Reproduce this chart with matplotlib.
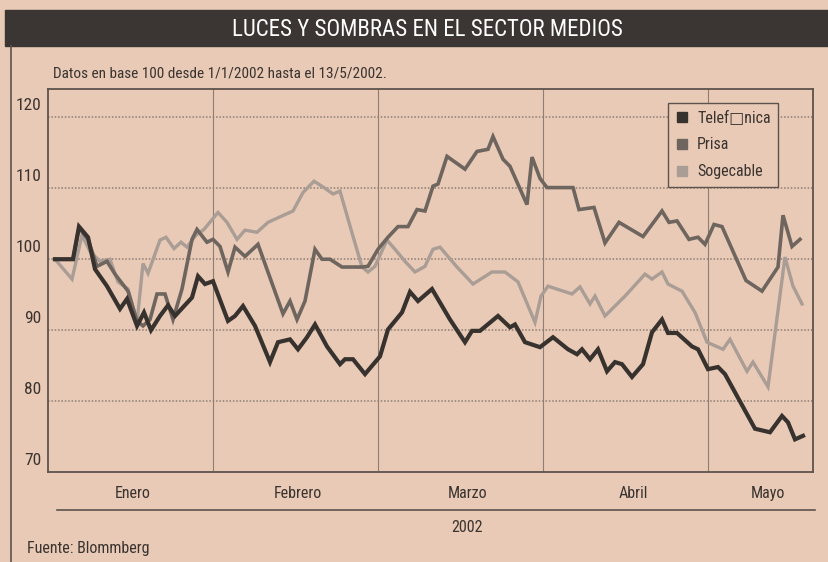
import matplotlib.pyplot as plt
import matplotlib.transforms as mtransforms
from matplotlib.lines import Line2D
from matplotlib.patches import Rectangle

plt.rcParams['font.family'] = ['Roboto Condensed', 'DejaVu Sans']

# posicion en el eje: 33 unidades por mes (ene, feb, mar, abr, may)
limites_mes = [0, 33, 66, 99, 132, 153]
meses = ['Enero', 'Febrero', 'Marzo', 'Abril', 'Mayo']
centros_mes = [17, 50, 84, 117, 144]

t_telefonica = [1.4, 5.0, 6.2, 8.0, 9.4, 11.8, 14.4, 15.8, 17.8, 19.2, 20.6, 22.4, 24.0, 25.4,
                28.8, 30.0, 31.4, 33.0, 36.0, 37.4, 39.0, 41.4, 44.4, 46.0, 48.4, 50.0, 51.8,
                53.4, 55.8, 58.4, 59.4, 61.0, 63.4, 66.4, 68.0, 70.8, 72.4, 74.0, 76.8, 80.4,
                83.4, 84.8, 86.4, 90.0, 92.4, 93.4, 95.4, 98.4, 101.0, 104.0, 105.8, 106.8,
                108.4, 110.0, 111.8, 113.4, 114.8, 116.8, 119.0, 120.8, 122.8, 124.0, 125.8,
                128.8, 130.0, 132.0, 134.0, 135.4, 141.4, 144.4, 146.8, 148.0, 149.4, 151.0]
telefonica = [100, 100, 104.6, 103.1, 98.6, 96.2, 93.0, 94.4, 90.6, 92.5, 90.0, 92.0, 93.5, 92.0,
              94.6, 97.6, 96.5, 96.9, 91.3, 92.0, 93.4, 90.6, 85.5, 88.3, 88.7, 87.3, 89.0,
              90.8, 87.7, 85.2, 85.9, 85.9, 83.8, 86.3, 90.1, 92.5, 95.4, 94.1, 95.8, 91.5,
              88.3, 89.9, 89.9, 92.0, 90.4, 90.8, 88.3, 87.6, 89.0, 87.3, 86.6, 87.3,
              85.9, 87.3, 84.2, 85.5, 85.2, 83.4, 85.2, 89.7, 91.5, 89.6, 89.6,
              87.7, 87.3, 84.5, 84.8, 83.8, 76.1, 75.6, 77.9, 77.0, 74.6, 75.1]

t_prisa = [1.4, 5.0, 6.2, 8.0, 9.8, 11.8, 13.4, 16.0, 17.8, 19.0, 20.4, 21.8, 23.4, 25.0,
           26.8, 28.8, 29.8, 31.8, 33.0, 34.4, 36.0, 37.4, 39.4, 42.0, 47.0, 48.4, 49.8,
           51.4, 53.4, 54.8, 56.4, 58.8, 62.8, 64.0, 66.0, 68.0, 70.0, 72.0, 73.8, 75.4,
           77.0, 78.0, 79.8, 83.4, 85.8, 88.0, 89.0, 91.0, 92.4, 95.8, 96.8, 98.4, 99.8,
           105.0, 106.2, 109.2, 111.4, 114.2, 119.0, 122.8, 124.2, 125.8, 128.2, 130.0,
           131.4, 133.2, 134.8, 139.6, 142.8, 146.0, 147.0, 148.8, 150.4]
prisa = [100, 100, 104.4, 102.8, 99.0, 99.7, 97.9, 95.5, 91.3, 90.6, 91.5, 95.1, 95.1, 91.5,
         95.8, 102.8, 104.2, 102.4, 102.8, 101.8, 98.2, 101.7, 100.4, 102.1, 92.3, 94.1, 91.5,
         94.1, 101.4, 100.0, 100.0, 98.9, 98.9, 99.0, 101.4, 103.1, 104.6, 104.6, 107.0, 106.8,
         110.3, 110.6, 114.5, 112.7, 115.2, 115.5, 117.3, 114.1, 113.1, 107.7, 114.4, 111.4, 110.1,
         110.1, 107.0, 107.3, 102.3, 105.2, 103.2, 106.8, 105.2, 105.4, 102.8, 103.1,
         102.1, 104.9, 104.6, 97.0, 95.5, 98.9, 106.2, 101.8, 102.8]

t_sogecable = [1.4, 4.8, 6.8, 8.4, 10.4, 12.4, 14.0, 16.0, 17.8, 19.0, 20.0, 22.4, 23.6, 25.2,
               26.6, 27.8, 29.6, 31.2, 34.0, 35.8, 37.8, 39.4, 41.8, 44.0, 46.8, 49.0, 51.0,
               53.2, 55.2, 57.0, 58.4, 60.6, 62.8, 64.0, 65.4, 67.8, 69.4, 71.4, 73.4, 75.4,
               77.0, 78.4, 81.8, 85.0, 88.8, 91.4, 94.0, 97.4, 98.6, 100.0, 104.8, 106.4,
               108.4, 109.4, 111.4, 115.4, 119.4, 120.8, 122.8, 124.0, 126.8, 129.4, 131.8,
               135.0, 136.4, 139.8, 141.0, 144.0, 147.4, 149.0, 150.8]
sogecable = [100, 97.2, 103.4, 101.1, 99.7, 100.0, 96.8, 95.8, 91.1, 99.4, 98.0, 102.7, 103.1, 101.5,
             102.4, 101.7, 103.4, 104.2, 106.6, 105.2, 102.8, 104.1, 103.8, 105.2, 106.1, 106.8, 109.4,
             111.0, 110.1, 109.2, 109.6, 104.2, 98.9, 98.2, 99.0, 102.7, 101.4, 99.7, 98.2, 99.0,
             101.4, 101.7, 98.9, 96.5, 98.2, 98.2, 96.8, 91.1, 94.8, 96.2, 95.1, 96.1,
             93.7, 94.8, 92.0, 94.8, 97.9, 97.2, 98.2, 96.5, 95.5, 92.5, 88.3,
             87.3, 88.7, 84.2, 85.5, 82.0, 100.3, 96.2, 93.7]

fondo = '#e8cab6'
trazo = '#5e534c'
rejilla = '#8e7e74'
texto = '#3a332f'
c_tel = '#38322f'
c_pri = '#6f655f'
c_sog = '#aa9d95'

fig = plt.figure(figsize=(8.29, 5.62), dpi=100, facecolor=fondo)

# barra del titulo
fig.patches.append(Rectangle((5 / 829, 1 - 46 / 562), 1, 36 / 562,
                             transform=fig.transFigure, color='#3b3633', zorder=0))
fig.text(0.516, 1 - 29 / 562, 'LUCES Y SOMBRAS EN EL SECTOR MEDIOS',
         color='white', ha='center', va='center', fontsize=16.5)
fig.add_artist(Line2D([11 / 829, 11 / 829], [0, 1 - 46 / 562],
                      transform=fig.transFigure, color=trazo, lw=1.2))

fig.text(53 / 829, 1 - 73 / 562, 'Datos en base 100 desde 1/1/2002 hasta el 13/5/2002.',
         ha='left', va='center', fontsize=11, color=texto)

ax = fig.add_axes([48 / 829, 1 - 472 / 562, (813 - 48) / 829, (472 - 89) / 562])
ax.set_facecolor(fondo)

ax.plot(t_sogecable, sogecable, color=c_sog, lw=2.4, solid_joinstyle='miter')
ax.plot(t_prisa, prisa, color=c_pri, lw=2.6, solid_joinstyle='miter')
ax.plot(t_telefonica, telefonica, color=c_tel, lw=3.0, solid_joinstyle='miter')

ax.set_xlim(limites_mes[0], limites_mes[-1])
ax.set_ylim(70, 124)

for x in limites_mes[1:-1]:
    ax.axvline(x, color=rejilla, lw=0.8, zorder=0)
for y in [80, 90, 100, 110, 120]:
    ax.axhline(y, color=rejilla, lw=1.1, ls=(0, (1, 1.2)), zorder=0)

ax.set_yticks([70, 80, 90, 100, 110, 120])
ax.set_xticks(centros_mes)
ax.set_xticklabels(meses)
ax.tick_params(axis='both', length=0, colors=texto)
ax.tick_params(axis='x', pad=10, labelsize=11.5)
ax.tick_params(axis='y', pad=5, labelsize=12.5)
desplaza = mtransforms.ScaledTranslation(0, 0.13, fig.dpi_scale_trans)
for lab in ax.get_yticklabels():
    lab.set_transform(lab.get_transform() + desplaza)

for s in ax.spines.values():
    s.set_color(trazo)
    s.set_linewidth(1.3)

handles = [Line2D([], [], marker='s', ls='none', color=c, markersize=7)
           for c in (c_tel, c_pri, c_sog)]
leg = ax.legend(handles, ['Telef□nica', 'Prisa', 'Sogecable'],
                loc='upper left', bbox_to_anchor=(0.81, 0.963), borderaxespad=0,
                fontsize=11.5, frameon=True, fancybox=False, handlelength=0.9,
                handletextpad=0.5, labelspacing=0.75, borderpad=0.45, labelcolor=texto)
leg.get_frame().set_facecolor(fondo)
leg.get_frame().set_edgecolor(trazo)
leg.get_frame().set_linewidth(1.0)
leg.get_frame().set_alpha(1)

fig.add_artist(Line2D([57 / 829, 815 / 829], [1 - 510 / 562] * 2,
                      transform=fig.transFigure, color=trazo, lw=1.2))
fig.text(467 / 829, 1 - 528 / 562, '2002', ha='center', va='center',
         fontsize=11.5, color=texto)
fig.text(27 / 829, 1 - 548 / 562, 'Fuente: Blommberg', ha='left', va='center',
         fontsize=11.5, color=texto)

fig.savefig('out.png', dpi=100, facecolor=fondo)
